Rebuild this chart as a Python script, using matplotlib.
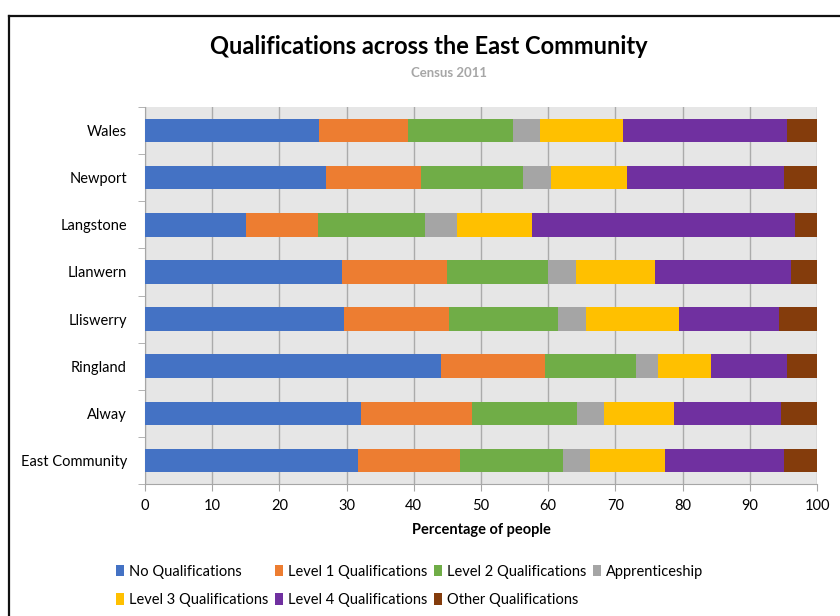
import matplotlib
matplotlib.use("Agg")
import matplotlib.pyplot as plt
from matplotlib.lines import Line2D
import numpy as np

plt.rcParams["font.family"] = ["Lato", "DejaVu Sans"]

# データ ------------------------------------------------------------
areas = ["Wales", "Newport", "Langstone", "Llanwern", "Lliswerry",
         "Ringland", "Alway", "East Community"]
series_names = ["No Qualifications", "Level 1 Qualifications",
                "Level 2 Qualifications", "Apprenticeship",
                "Level 3 Qualifications", "Level 4 Qualifications",
                "Other Qualifications"]
no_qual = [25.9, 26.9, 15.0, 29.3, 29.6, 44.1, 32.1, 31.7]
level1 = [13.2, 14.2, 10.7, 15.6, 15.7, 15.4, 16.6, 15.2]
level2 = [15.7, 15.2, 16.0, 15.1, 16.2, 13.6, 15.6, 15.3]
apprentice = [4.0, 4.1, 4.8, 4.1, 4.1, 3.2, 4.0, 4.0]
level3 = [12.3, 11.4, 11.1, 11.8, 13.8, 8.0, 10.4, 11.2]
level4 = [24.5, 23.3, 39.2, 20.3, 14.9, 11.3, 15.9, 17.7]
other = [4.4, 4.9, 3.2, 3.8, 5.7, 4.4, 5.4, 4.9]
x_ticks = list(range(0, 101, 10))

colors = ["#4472C4", "#ED7D31", "#70AD47", "#A5A5A5",
          "#FFC000", "#7030A0", "#843C0C"]
# -------------------------------------------------------------------

fig = plt.figure(figsize=(8.4, 6.16), dpi=100)
ax = fig.add_axes([145 / 840, 1 - 484 / 616, 672 / 840, 377 / 616])
ax.set_facecolor("#E6E6E6")

y = np.arange(len(areas))
left = np.zeros(len(areas))
handles = []
for name, vals, c in zip(series_names,
                         [no_qual, level1, level2, apprentice, level3, level4, other],
                         colors):
    b = ax.barh(y, vals, left=left, height=0.5, color=c, label=name, zorder=3)
    handles.append(b)
    left += np.array(vals)

ax.set_xlim(0, 100)
ax.set_ylim(len(areas) - 0.5, -0.5)
ax.set_xticks(x_ticks)
ax.set_xticklabels([str(t) for t in x_ticks], fontsize=10.5)
ax.set_yticks(y)
ax.set_yticklabels(areas, fontsize=10.5)
ax.tick_params(axis="y", length=0, pad=13)
ax.set_yticks(np.arange(-0.5, len(areas)), minor=True)
ax.tick_params(axis="y", which="minor", length=5, color="#A6A6A6", direction="out")
ax.tick_params(axis="x", length=5, color="#A6A6A6", pad=6)
ax.grid(axis="x", color="#ABABAB", lw=1, zorder=1)
for s in ["top", "right"]:
    ax.spines[s].set_visible(False)
for s in ["left", "bottom"]:
    ax.spines[s].set_color("#A6A6A6")
ax.set_xlabel("Percentage of people", fontsize=10.5, fontweight="bold", labelpad=7)

fig.text(0.51, 1 - 47 / 616, "Qualifications across the East Community",
         ha="center", va="center", fontsize=17, fontweight="bold")
fig.text(0.535, 1 - 73 / 616, "Census 2011", ha="center", va="center",
         fontsize=9.5, fontweight="bold", color="#A6A6A6")

# 凡例: 行優先に並び替え
order = [0, 4, 1, 5, 2, 6, 3]
leg = fig.legend([handles[i] for i in order], [series_names[i] for i in order],
                 ncol=4, loc="center left", bbox_to_anchor=(103 / 840, 1 - 586 / 616),
                 frameon=False, fontsize=10.5, handlelength=0.55, handleheight=0.85,
                 handletextpad=0.3, columnspacing=0.5, labelspacing=1.0)

# 外枠
fig.add_artist(Line2D([8.5 / 840, 8.5 / 840], [0, 1 - 16 / 616], color="#111111", lw=1.6))
fig.add_artist(Line2D([8.5 / 840, 1], [1 - 16 / 616, 1 - 16 / 616], color="#111111", lw=1.6))

fig.savefig("out.png", dpi=100)
